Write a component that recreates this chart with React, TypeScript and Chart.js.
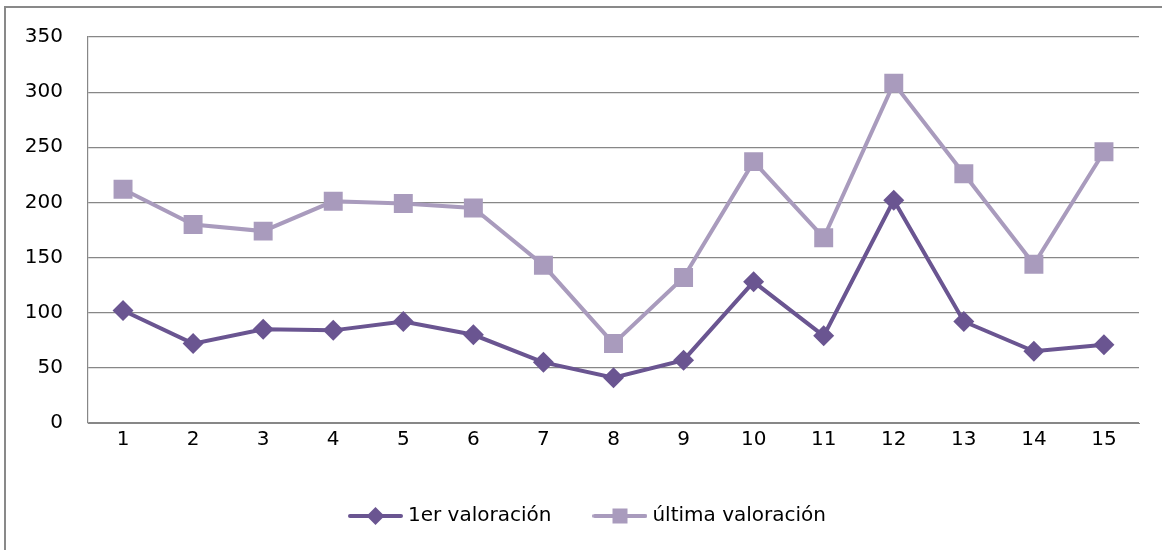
import React, { useEffect, useRef } from "react";
import { Chart, registerables } from "chart.js";

Chart.register(...registerables);

const categories = ["1", "2", "3", "4", "5", "6", "7", "8", "9", "10", "11", "12", "13", "14", "15"];
const primeraValoracion = [102, 72, 85, 84, 92, 80, 55, 41, 57, 128, 79, 202, 92, 65, 71];
const ultimaValoracion = [212, 180, 174, 201, 199, 195, 143, 72, 132, 237, 168, 308, 226, 144, 246];
const seriesNames = ["1er valoración", "última valoración"];
const yTicks = [0, 50, 100, 150, 200, 250, 300, 350];

const DARK = "#6A5591";
const LIGHT = "#A99BBD";
const GRID = "#878787";
const FONT = "'DejaVu Sans', sans-serif";
const FONT_SIZE = 20;

function legendImage(color: string, kind: "diamond" | "square"): HTMLCanvasElement {
  const c = document.createElement("canvas");
  c.width = 55;
  c.height = 22;
  const ctx = c.getContext("2d")!;
  ctx.strokeStyle = color;
  ctx.lineWidth = 4;
  ctx.lineCap = "round";
  ctx.beginPath();
  ctx.moveTo(2, 11);
  ctx.lineTo(53, 11);
  ctx.stroke();
  ctx.fillStyle = color;
  ctx.beginPath();
  if (kind === "diamond") {
    ctx.moveTo(27.5, 2);
    ctx.lineTo(36.5, 11);
    ctx.lineTo(27.5, 20);
    ctx.lineTo(18.5, 11);
    ctx.closePath();
  } else {
    ctx.rect(20, 3.5, 15, 15);
  }
  ctx.fill();
  return c;
}

export default function App() {
  const ref = useRef<HTMLCanvasElement | null>(null);

  useEffect(() => {
    if (!ref.current) return;
    const images = [legendImage(DARK, "diamond"), legendImage(LIGHT, "square")];
    const chart = new Chart(ref.current, {
      type: "line",
      data: {
        labels: categories,
        datasets: [
          {
            label: seriesNames[0],
            data: primeraValoracion,
            borderColor: DARK,
            backgroundColor: DARK,
            borderWidth: 4,
            pointStyle: "rectRot",
            pointRadius: 10.5,
            pointBorderWidth: 0,
            pointBackgroundColor: DARK,
            tension: 0,
            order: 1,
          },
          {
            label: seriesNames[1],
            data: ultimaValoracion,
            borderColor: LIGHT,
            backgroundColor: LIGHT,
            borderWidth: 4,
            pointStyle: "rect",
            pointRadius: 13.4,
            pointBorderWidth: 0,
            pointBackgroundColor: LIGHT,
            tension: 0,
            order: 2,
          },
        ],
      },
      options: {
        responsive: false,
        animation: false,
        events: [],
        layout: { padding: { left: 11, right: 0, top: 29, bottom: 14 } },
        scales: {
          x: {
            offset: true,
            grid: { display: false, drawTicks: false },
            border: { display: true, color: GRID, width: 1 },
            ticks: { color: "#000", font: { family: FONT, size: FONT_SIZE }, padding: 5, maxRotation: 0 },
            afterFit: (s: any) => {
              s.height = 37;
            },
          },
          y: {
            min: 0,
            max: 350,
            afterBuildTicks: (s: any) => {
              s.ticks = yTicks.map((v) => ({ value: v }));
            },
            grid: { color: GRID, lineWidth: 1.2, drawTicks: false },
            border: { display: true, color: GRID, width: 1.2 },
            ticks: { color: "#000", font: { family: FONT, size: FONT_SIZE }, padding: 25 },
            afterFit: (s: any) => {
              s.width = 71;
              s.paddingTop = 0;
              s.paddingBottom = 0;
            },
          },
          y2: {
            type: "linear",
            position: "right",
            display: true,
            grid: { display: false, drawTicks: false },
            border: { display: false },
            ticks: { display: false },
            afterFit: (s: any) => {
              s.width = 23;
              s.paddingTop = 0;
              s.paddingBottom = 0;
            },
          },
        },
        plugins: {
          tooltip: { enabled: false },
          legend: {
            display: true,
            position: "bottom",
            labels: {
              color: "#000",
              font: { family: FONT, size: FONT_SIZE },
              usePointStyle: true,
              pointStyleWidth: 45,
              padding: 46,
              generateLabels: (ch: any) => {
                const items = Chart.defaults.plugins.legend.labels.generateLabels(ch);
                return items.map((it: any, i: number) => ({ ...it, pointStyle: images[i] }));
              },
            },
          },
        },
      },
    });
    return () => chart.destroy();
  }, []);

  return (
    <div style={{ position: "fixed", inset: 0, overflow: "hidden", background: "#fff" }}>
      <div
        style={{
          position: "absolute",
          left: 4,
          top: 6,
          width: 1180,
          height: 580,
          border: "2px solid #898989",
          boxSizing: "border-box",
        }}
      >
        <canvas ref={ref} width={1156} height={542} style={{ display: "block", width: 1156, height: 542 }} />
      </div>
    </div>
  );
}
